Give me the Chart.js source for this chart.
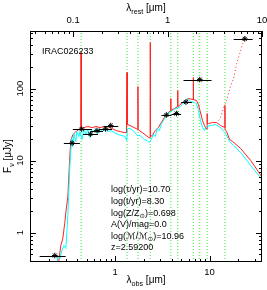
<!DOCTYPE html>
<html>
<head>
<meta charset="utf-8">
<script src="https://cdn.jsdelivr.net/npm/chart.js@4.4.0/dist/chart.umd.min.js"></script>
<style>
  html, body { margin: 0; padding: 0; background: #fff; }
  #wrap { position: relative; width: 267px; height: 290px; }
</style>
</head>
<body>
<div id="wrap"><canvas id="sed"></canvas></div>
<script>
const objectName = 'IRAC026233';
const onePlusZ = 3.592;

// observed photometry: wavelength (um), flux (uJy), band edges
const photWave = [0.230, 0.351, 0.443, 0.549, 0.644, 0.792, 0.900, 3.49, 4.46, 5.62, 7.88, 23.6];
const photFlux = [0.48, 17.5, 27.4, 23.3, 26.1, 27.6, 30.6, 42.9, 45.0, 64.9, 133, 490];
const photLo   = [0.159, 0.287, 0.357, 0.457, 0.555, 0.676, 0.76, 3.1, 3.95, 5.0, 5.3, 18.0];
const photHi   = [0.300, 0.424, 0.569, 0.660, 0.745, 0.930, 1.08, 3.95, 5.0, 6.5, 10.5, 28.6];

// best-fit model with emission lines (red)
const redWave = [0.2476, 0.2664, 0.2797, 0.2937, 0.3010, 0.3162, 0.3241, 0.3322, 0.3403, 0.3573, 0.3847, 0.4140,
  0.434, 0.4368, 0.4395, 0.4681, 0.5163, 0.5694, 0.6281, 0.6926, 0.7637, 0.8424, 0.9292, 1.0248, 1.1303, 1.2465,
  1.3187, 1.339, 1.345, 1.444, 1.5928, 1.740, 1.746, 1.752, 1.937, 2.137, 2.272, 2.350, 2.357, 2.364, 2.475, 2.665,
  2.867, 3.086, 3.321, 3.574, 3.88, 3.89, 3.90, 4.243, 4.59, 4.605, 4.62, 5.036, 5.555, 5.978, 6.71, 6.735, 6.76,
  7.274, 7.638, 7.924, 8.425, 8.848, 9.180, 9.41, 9.433, 9.46, 9.758, 10.76, 11.87, 13.09, 14.50, 14.55, 14.60,
  15.17, 16.33, 17.57, 21.37, 27.30, 36.63];
const redFlux = [0.316, 0.660, 0.825, 1.377, 1.896, 3.162, 6.19, 11.73, 18.96, 22.97, 25.28, 26.95,
  27.2, 316, 27.5, 28.73, 29.67, 28.73, 29.67, 28.73, 29.67, 29.67, 27.83, 26.1, 25.28, 24.48,
  24.48, 166.8, 31.62, 30.63, 28.73, 26.95, 106.6, 26.95, 24.48, 22.25, 20.86, 20.86, 435.5, 21.54, 22.25, 26.1,
  28.73, 33.71, 39.56, 44.96, 49.5, 72.6, 49.5, 52.75, 56.2, 93.8, 56.2, 61.9, 68.1, 72.6, 70.4, 142.2, 70.4,
  68.1, 59.95, 49.5, 35.94, 30.63, 27.83, 27.5, 44.96, 32.66, 32.66, 33.71, 33.71, 30.63, 28.73, 58.06, 26.95,
  25.28, 19.57, 18.36, 14.68, 10.0, 5.7];

// stellar continuum model (cyan)
const cyanWave = [0.2415, 0.2475, 0.2600, 0.2731, 0.2867, 0.3010, 0.3085, 0.3162, 0.3241, 0.3322, 0.3403, 0.3487,
  0.3573, 0.3663, 0.3847, 0.3942, 0.4140, 0.4244, 0.4456, 0.4681, 0.4914, 0.5163, 0.5420, 0.5694, 0.5978, 0.6281,
  0.6594, 0.6926, 0.7275, 0.7828, 0.8424, 0.9067, 0.9758, 1.0762, 1.187, 1.2776, 1.3255, 1.3583, 1.444, 1.5928,
  1.714, 1.845, 2.035, 2.190, 2.300, 2.415, 2.537, 2.665, 2.798, 2.938, 3.086, 3.241, 3.404, 3.574, 3.846, 4.140,
  4.457, 4.916, 5.420, 5.834, 6.281, 6.925, 7.274, 7.638, 8.024, 8.425, 8.848, 9.292, 10.25, 11.58, 13.09, 14.80,
  16.33, 18.0, 21.37, 27.30, 36.63];
const cyanFlux = [0.297, 0.479, 0.435, 0.562, 0.660, 0.600, 1.0, 1.722, 3.831, 8.52, 13.77, 20.21,
  15.64, 23.71, 18.36, 25.28, 21.54, 25.28, 19.57, 26.95, 22.97, 26.95, 20.86, 26.95, 25.28, 27.83,
  23.71, 27.83, 25.28, 26.95, 25.28, 26.1, 24.48, 22.97, 22.25, 21.54, 18.96, 27.83, 27.83, 25.28,
  22.25, 22.25, 19.57, 18.96, 17.78, 19.57, 22.97, 21.54, 27.83, 26.1, 31.62, 35.94, 39.56, 44.96, 46.42, 51.1,
  52.75, 56.2, 65.98, 72.6, 65.98, 63.9, 61.9, 49.5, 35.94, 28.73, 26.1, 29.67, 30.63, 31.62, 28.73, 23.71,
  18.36, 16.16, 12.92, 8.52, 5.275];

// dust emission (red dotted)
const dustWave = [12.47, 13.09, 14.09, 15.17, 16.73, 18.0, 19.37, 20.85, 22.44, 24.15];
const dustFlux = [35.94, 39.56, 54.46, 68.1, 110.1, 137.7, 222.4, 306.3, 421.7, 544.8];

// emission line positions, observed frame (um)
const lineWave = [0.4368, 1.339, 1.746, 2.357, 3.890, 4.605, 6.735, 7.780, 9.433, 14.55];

// axes
const obsMin = 0.1257, obsMax = 35.92;
const fluxMin = 0.39, fluxMax = 630;
const obsTicks = [1, 10], obsTickLabels = ['1', '10'];
const restTicks = [0.1, 1, 10], restTickLabels = ['0.1', '1', '10'];
const fluxTicks = [1, 10, 100], fluxTickLabels = ['1', '10', '100'];

const fitText = [
  [['log(τ/yr)=10.70', 0]],
  [['log(t/yr)=8.30', 0]],
  [['log(Z/Z', 0], ['⊙', 1], [')=0.698', 0]],
  [['A(V)/mag=0.0', 0]],
  [['log(ℳ/ℳ', 0], ['⊙', 1], [')=10.96', 0]],
  [['z=2.59200', 0]]
];

const FONT = '"Liberation Sans", "DejaVu Sans", Arial, sans-serif';

function xy(w, f) { return w.map((v, i) => ({ x: v, y: f[i] })); }

const lineSets = lineWave.map(w => ({
  type: 'line',
  data: [{ x: w, y: fluxMin }, { x: w, y: fluxMax }],
  borderColor: '#33ee33',
  borderWidth: 1,
  borderDash: [1, 2],
  pointRadius: 0,
  order: 5
}));

function richWidth(ctx, parts, size) {
  let w = 0;
  parts.forEach(([t, sub]) => {
    ctx.font = (sub ? size * 0.72 : size) + 'px ' + FONT;
    w += ctx.measureText(t).width;
  });
  return w;
}

function drawRich(ctx, parts, x, y, size) {
  let cx = x;
  parts.forEach(([t, sub]) => {
    ctx.font = (sub ? size * 0.72 : size) + 'px ' + FONT;
    ctx.fillText(t, cx, y + (sub ? size * 0.32 : 0));
    cx += ctx.measureText(t).width;
  });
}

function logTicks(min, max) {
  const out = [];
  for (let e = Math.floor(Math.log10(min)); e <= Math.ceil(Math.log10(max)); e++) {
    for (let m = 1; m < 10; m++) {
      const v = m * Math.pow(10, e);
      if (v >= min && v <= max) out.push({ v, major: m === 1 });
    }
  }
  return out;
}

const framePlugin = {
  id: 'framePlugin',
  afterDatasetsDraw(chart) {
    const { ctx, chartArea: a, scales } = chart;
    const sx = scales.x, sy = scales.y, sr = scales.xr;
    ctx.save();
    // error bars
    ctx.strokeStyle = '#000';
    ctx.lineWidth = 1;
    photWave.forEach((w, i) => {
      const y = Math.round(sy.getPixelForValue(photFlux[i])) + 0.5;
      ctx.beginPath();
      ctx.moveTo(sx.getPixelForValue(photLo[i]), y);
      ctx.lineTo(sx.getPixelForValue(photHi[i]), y);
      ctx.stroke();
    });
    // frame
    ctx.strokeRect(a.left + 0.5, a.top + 0.5, a.right - a.left - 1, a.bottom - a.top - 1);
    // ticks
    ctx.beginPath();
    logTicks(obsMin, obsMax).forEach(t => {
      const p = Math.round(sx.getPixelForValue(t.v)) + 0.5;
      const l = t.major ? 6 : 3;
      ctx.moveTo(p, a.bottom); ctx.lineTo(p, a.bottom - l);
    });
    logTicks(obsMin / onePlusZ, obsMax / onePlusZ).forEach(t => {
      const p = Math.round(sr.getPixelForValue(t.v)) + 0.5;
      const l = t.major ? 6 : 3;
      ctx.moveTo(p, a.top); ctx.lineTo(p, a.top + l);
    });
    logTicks(fluxMin, fluxMax).forEach(t => {
      const p = Math.round(sy.getPixelForValue(t.v)) + 0.5;
      const l = t.major ? 6 : 3;
      ctx.moveTo(a.left, p); ctx.lineTo(a.left + l, p);
      ctx.moveTo(a.right, p); ctx.lineTo(a.right - l, p);
    });
    ctx.stroke();

    // tick labels
    ctx.fillStyle = '#000';
    ctx.font = '9.5px ' + FONT;
    ctx.textAlign = 'center';
    ctx.textBaseline = 'middle';
    obsTicks.forEach((v, i) => ctx.fillText(obsTickLabels[i], sx.getPixelForValue(v), a.bottom + 10));
    restTicks.forEach((v, i) => ctx.fillText(restTickLabels[i], sr.getPixelForValue(v), a.top - 11));
    fluxTicks.forEach((v, i) => {
      ctx.save();
      ctx.translate(a.left - 10, sy.getPixelForValue(v));
      ctx.rotate(-Math.PI / 2);
      ctx.fillText(fluxTickLabels[i], 0, 0);
      ctx.restore();
    });

    // axis titles
    ctx.textAlign = 'left';
    ctx.textBaseline = 'alphabetic';
    const cx = (a.left + a.right) / 2;
    const top = [['λ', 0], ['rest', 1], [' [μm]', 0]];
    drawRich(ctx, top, cx - richWidth(ctx, top, 10) / 2, 11, 10);
    const bot = [['λ', 0], ['obs', 1], [' [μm]', 0]];
    drawRich(ctx, bot, cx - richWidth(ctx, bot, 10) / 2, 283, 10);
    const left = [['F', 0], ['ν', 1], [' [μJy]', 0]];
    ctx.save();
    ctx.translate(11, 156);
    ctx.rotate(-Math.PI / 2);
    drawRich(ctx, left, -richWidth(ctx, left, 10) / 2, 0, 10);
    ctx.restore();

    // labels inside plot
    ctx.font = '9px ' + FONT;
    ctx.textBaseline = 'middle';
    ctx.fillText(objectName, 42, 52);
    fitText.forEach((parts, i) => drawRich(ctx, parts, 111, 190 + i * 11.6, 9));
    ctx.restore();
  }
};

new Chart(document.getElementById('sed'), {
  type: 'scatter',
  data: {
    datasets: [
      {
        data: xy(photWave, photFlux),
        pointStyle: 'star',
        radius: 2.8,
        borderColor: '#000',
        backgroundColor: '#000',
        borderWidth: 1,
        order: 0
      },
      {
        type: 'line',
        data: xy(cyanWave, cyanFlux),
        borderColor: '#00ffff',
        borderWidth: 1,
        pointRadius: 0,
        order: 1
      },
      {
        type: 'line',
        data: xy(redWave, redFlux),
        borderColor: '#ff2020',
        borderWidth: 1,
        pointRadius: 0,
        order: 2
      },
      {
        type: 'line',
        data: xy(dustWave, dustFlux),
        borderColor: '#ff2020',
        borderWidth: 1,
        borderDash: [1, 2.5],
        pointRadius: 0,
        order: 3
      },
      ...lineSets
    ]
  },
  options: {
    responsive: true,
    maintainAspectRatio: false,
    animation: false,
    events: [],
    layout: { padding: { left: 30, top: 31, right: 5, bottom: 28 } },
    plugins: { legend: { display: false }, tooltip: { enabled: false } },
    scales: {
      x: { type: 'logarithmic', min: obsMin, max: obsMax, display: false },
      xr: { type: 'logarithmic', position: 'top', min: obsMin / onePlusZ, max: obsMax / onePlusZ, display: false },
      y: { type: 'logarithmic', min: fluxMin, max: fluxMax, display: false }
    }
  },
  plugins: [framePlugin]
});
</script>
</body>
</html>
